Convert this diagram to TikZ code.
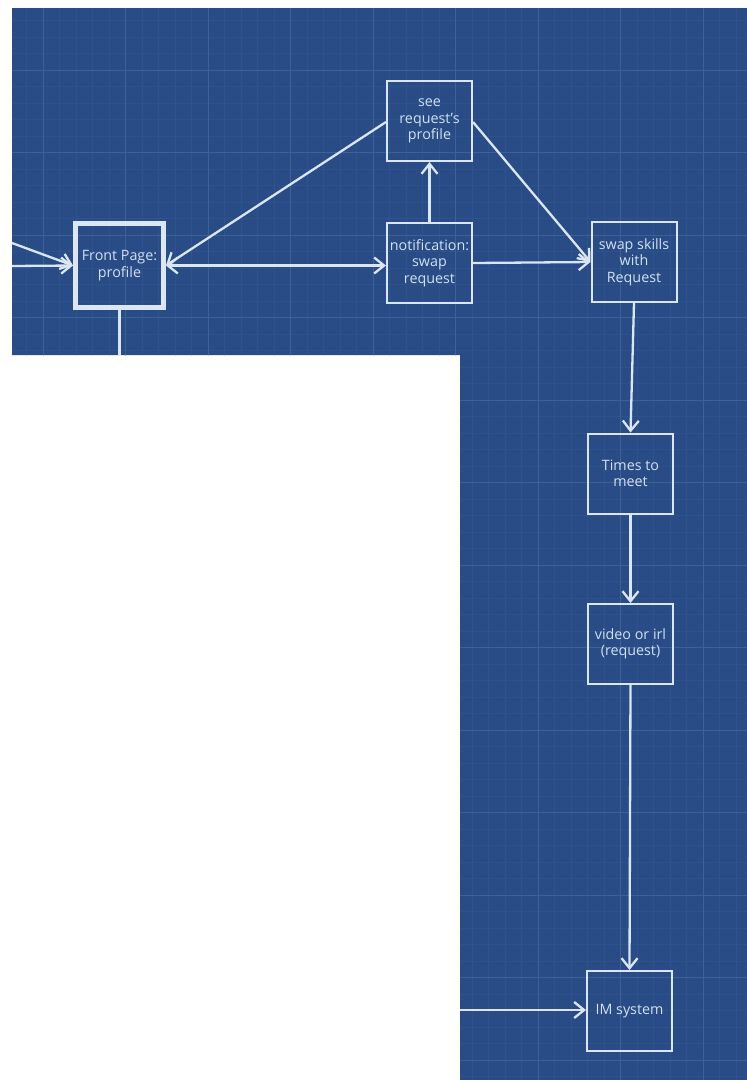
\documentclass[tikz,border=0pt]{standalone}
\usepackage{fontspec}
\setmainfont{Open Sans}
\usetikzlibrary{arrows.meta}
\definecolor{bpblue}{RGB}{41,76,134}
\definecolor{gridmaj}{RGB}{62,96,152}
\definecolor{gridmin}{RGB}{46,82,139}
\definecolor{ink}{RGB}{218,230,244}
\definecolor{txt}{RGB}{210,224,242}
\begin{document}
\begin{tikzpicture}[x=1pt,y=-1pt,
  box/.style={draw=ink, line width=2pt, inner sep=0pt, minimum width=85pt, minimum height=80pt,
    align=center, text=txt, font=\fontsize{14.3}{16.5}\selectfont},
  mainbox/.style={box, line width=5pt, minimum width=88pt, minimum height=84pt},
  conn/.style={draw=ink, line width=2.3pt},
  arr/.style={conn, -{Straight Barb[length=10pt,width=16pt,line width=2.3pt]}},
  darr/.style={conn, {Straight Barb[length=10pt,width=16pt,line width=2.3pt]}-{Straight Barb[length=10pt,width=16pt,line width=2.3pt]}}
]
\useasboundingbox (0,0) rectangle (747,1080);
\fill[white] (0,0) rectangle (747,1080);
\begin{scope}
\clip (12,8) -- (747,8) -- (747,1080) -- (460,1080) -- (460,355) -- (12,355) -- cycle;
\fill[bpblue] (0,0) rectangle (747,1080);
\foreach \i in {0,...,50} {
  \draw[gridmin, line width=0.5pt] ({43-82.5+16.5*\i},0) -- ({43-82.5+16.5*\i},1080);
}
\foreach \i in {0,...,70} {
  \draw[gridmin, line width=0.5pt] (0,{70-82.5+16.5*\i}) -- (747,{70-82.5+16.5*\i});
}
\foreach \i in {0,...,9} {
  \draw[gridmaj, line width=1pt] ({43+82.5*\i},0) -- ({43+82.5*\i},1080);
}
\foreach \i in {-1,...,13} {
  \draw[gridmaj, line width=1pt] (0,{70+82.5*\i}) -- (747,{70+82.5*\i});
}
\end{scope}

\node[mainbox] (fp) at (119.5,265.5) {Front Page:\\profile};
\node[box] (see) at (429.5,121) {see\\request's\\profile};
\node[box] (notif) at (429.5,263) {notification:\\swap\\request};
\node[box] (swap) at (634,262) {swap skills\\with\\Request};
\node[box] (times) at (630.5,473.5) {Times to\\meet};
\node[box] (video) at (630.5,644) {video or irl\\(request)};
\node[box] (im) at (629.5,1011) {IM system};

\coordinate (in1) at (12,243);
\coordinate (in2) at (12,266);
\coordinate (fpout) at (119.5,355);
\coordinate (imin) at (460,1010);

\draw[arr] (in1) -- (fp.west);
\draw[arr] (in2) -- (fp.west);
\draw[conn] (fp.south) -- (fpout);
\draw[arr] (see.west |- 0,122) -- (fp.east);
\draw[darr] (fp.east) -- (notif.west |- fp.east);
\draw[arr] (notif.north) -- (see.south);
\draw[arr] (see.east |- 0,122) -- (swap.west);
\draw[arr] (notif.east) -- (swap.west);
\draw[arr] (swap.south) -- (times.north);
\draw[arr] (times.south) -- (video.north);
\draw[arr] (video.south) -- (im.north);
\draw[arr] (imin) -- (im.west |- imin);
\end{tikzpicture}
\end{document}
